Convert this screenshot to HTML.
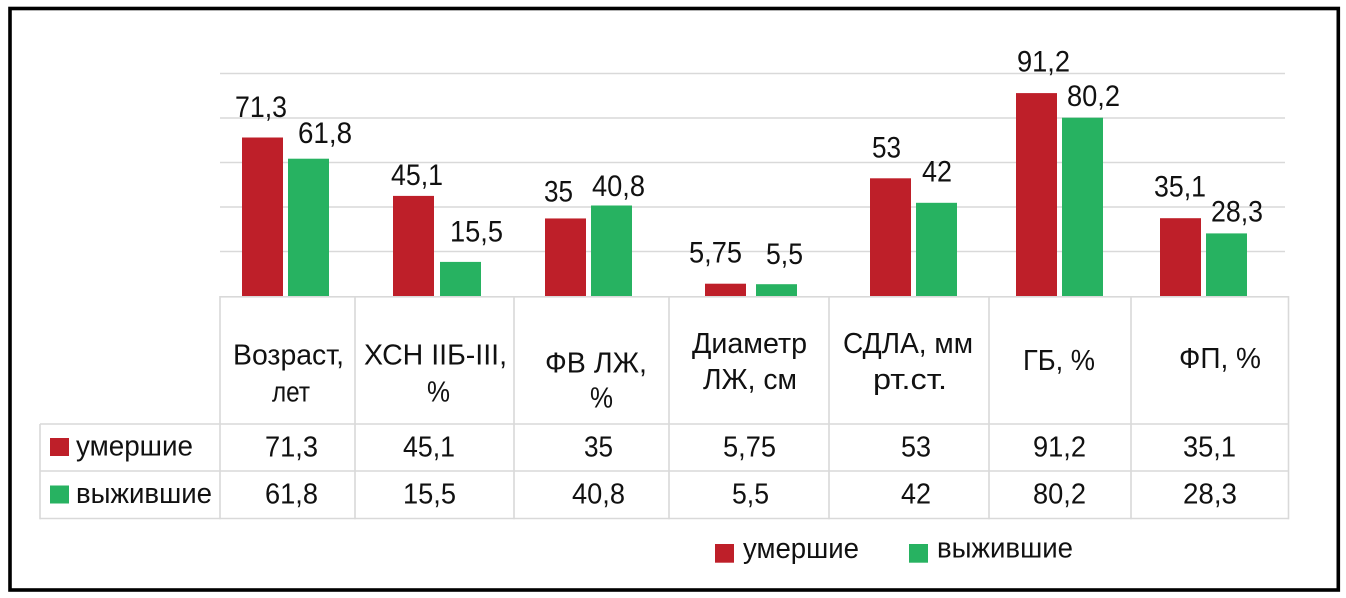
<!DOCTYPE html>
<html>
<head>
<meta charset="utf-8">
<style>
  html,body{margin:0;padding:0;background:#fff;}
  svg{display:block;}
  text{font-family:"Liberation Sans","Noto Sans CJK SC",sans-serif;fill:#111;}
</style>
</head>
<body>
<svg width="1346" height="598" viewBox="0 0 1346 598" xmlns="http://www.w3.org/2000/svg">
  <rect x="0" y="0" width="1346" height="598" fill="#fff"/>
  <!-- frame -->
  <rect x="10" y="8.5" width="1328.3" height="581.5" fill="none" stroke="#000" stroke-width="3.6"/>

  <!-- gridlines -->
  <g stroke="#d9d9d9" stroke-width="1.4">
    <line x1="220" y1="73.5" x2="1285" y2="73.5"/>
    <line x1="220" y1="118" x2="1285" y2="118"/>
    <line x1="220" y1="162.5" x2="1285" y2="162.5"/>
    <line x1="220" y1="207" x2="1285" y2="207"/>
    <line x1="220" y1="251.5" x2="1285" y2="251.5"/>
  </g>

  <!-- bars -->
  <g fill="#BE1F29">
    <rect x="242" y="137.5" width="41" height="159"/>
    <rect x="393" y="195.9" width="41" height="100.6"/>
    <rect x="545" y="218.45" width="41" height="78.05"/>
    <rect x="705" y="283.7" width="41" height="12.8"/>
    <rect x="870" y="178.3" width="41" height="118.2"/>
    <rect x="1016" y="93.1" width="41" height="203.4"/>
    <rect x="1160" y="218.2" width="41" height="78.3"/>
  </g>
  <g fill="#27B261">
    <rect x="288" y="158.7" width="41" height="137.8"/>
    <rect x="440" y="261.9" width="41" height="34.6"/>
    <rect x="591" y="205.5" width="41" height="91"/>
    <rect x="756" y="284.2" width="41" height="12.3"/>
    <rect x="916" y="202.8" width="41" height="93.7"/>
    <rect x="1062" y="117.7" width="41" height="178.8"/>
    <rect x="1206" y="233.4" width="41" height="63.1"/>
  </g>

  <!-- bar labels -->
  <g font-size="30">
    <text x="235" y="117" textLength="52" lengthAdjust="spacingAndGlyphs">71,3</text>
    <text x="298" y="143" textLength="54" lengthAdjust="spacingAndGlyphs">61,8</text>
    <text x="391" y="185" textLength="52" lengthAdjust="spacingAndGlyphs">45,1</text>
    <text x="450" y="241.7" textLength="53" lengthAdjust="spacingAndGlyphs">15,5</text>
    <text x="544" y="201.7" textLength="29" lengthAdjust="spacingAndGlyphs">35</text>
    <text x="592" y="196" textLength="53" lengthAdjust="spacingAndGlyphs">40,8</text>
    <text x="689" y="262.7" textLength="53" lengthAdjust="spacingAndGlyphs">5,75</text>
    <text x="766" y="264" textLength="37" lengthAdjust="spacingAndGlyphs">5,5</text>
    <text x="872" y="157.3" textLength="29" lengthAdjust="spacingAndGlyphs">53</text>
    <text x="922" y="181.7" textLength="30" lengthAdjust="spacingAndGlyphs">42</text>
    <text x="1017" y="71.7" textLength="53" lengthAdjust="spacingAndGlyphs">91,2</text>
    <text x="1067" y="106" textLength="53" lengthAdjust="spacingAndGlyphs">80,2</text>
    <text x="1154" y="196.7" textLength="52" lengthAdjust="spacingAndGlyphs">35,1</text>
    <text x="1211" y="221.7" textLength="52" lengthAdjust="spacingAndGlyphs">28,3</text>
  </g>

  <!-- table lines -->
  <g stroke="#d9d9d9" stroke-width="1.6" fill="none">
    <line x1="220" y1="296.8" x2="1289" y2="296.8"/>
    <line x1="40" y1="424" x2="1289" y2="424"/>
    <line x1="40" y1="471" x2="1289" y2="471"/>
    <line x1="40" y1="518.5" x2="1289" y2="518.5"/>
    <line x1="40" y1="424" x2="40" y2="519.3"/>
    <line x1="220" y1="296" x2="220" y2="519.3"/>
    <line x1="355" y1="296" x2="355" y2="519.3"/>
    <line x1="514" y1="296" x2="514" y2="519.3"/>
    <line x1="669" y1="296" x2="669" y2="519.3"/>
    <line x1="829" y1="296" x2="829" y2="519.3"/>
    <line x1="989" y1="296" x2="989" y2="519.3"/>
    <line x1="1131" y1="296" x2="1131" y2="519.3"/>
    <line x1="1288.5" y1="296" x2="1288.5" y2="519.3"/>
  </g>

  <!-- header text -->
  <g font-size="29">
    <text x="233" y="364.3" textLength="111" lengthAdjust="spacingAndGlyphs">Возраст,</text>
    <text x="272" y="401.7" textLength="38" lengthAdjust="spacingAndGlyphs">лет</text>
    <text x="364" y="364.3" textLength="143" lengthAdjust="spacingAndGlyphs">ХСН IIБ-III,</text>
    <text x="427" y="401.7" textLength="23" lengthAdjust="spacingAndGlyphs">%</text>
    <text x="545" y="372.7" textLength="102" lengthAdjust="spacingAndGlyphs">ФВ ЛЖ,</text>
    <text x="590" y="407.3" textLength="23" lengthAdjust="spacingAndGlyphs">%</text>
    <text x="692" y="353" textLength="115" lengthAdjust="spacingAndGlyphs">Диаметр</text>
    <text x="703" y="389" textLength="94" lengthAdjust="spacingAndGlyphs">ЛЖ, см</text>
    <text x="843" y="353" textLength="130" lengthAdjust="spacingAndGlyphs">СДЛА, мм</text>
    <text x="873" y="389" textLength="74" lengthAdjust="spacingAndGlyphs">рт.ст.</text>
    <text x="1023" y="370" textLength="72" lengthAdjust="spacingAndGlyphs">ГБ, %</text>
    <text x="1179" y="368" textLength="82" lengthAdjust="spacingAndGlyphs">ФП, %</text>
  </g>

  <!-- data rows -->
  <g font-size="29">
    <rect x="50" y="438" width="19" height="18" fill="#BE1F29"/>
    <text x="76" y="455.7" textLength="117" lengthAdjust="spacingAndGlyphs">умершие</text>
    <rect x="50" y="485.5" width="19" height="18" fill="#27B261"/>
    <text x="76" y="503" textLength="136" lengthAdjust="spacingAndGlyphs">выжившие</text>

    <text x="265" y="456.7" textLength="53" lengthAdjust="spacingAndGlyphs">71,3</text>
    <text x="403" y="456.7" textLength="52" lengthAdjust="spacingAndGlyphs">45,1</text>
    <text x="584" y="456.7" textLength="29" lengthAdjust="spacingAndGlyphs">35</text>
    <text x="723" y="456.7" textLength="53" lengthAdjust="spacingAndGlyphs">5,75</text>
    <text x="901" y="456.7" textLength="30" lengthAdjust="spacingAndGlyphs">53</text>
    <text x="1033" y="456.7" textLength="53" lengthAdjust="spacingAndGlyphs">91,2</text>
    <text x="1183" y="456.7" textLength="53" lengthAdjust="spacingAndGlyphs">35,1</text>

    <text x="265" y="503.3" textLength="53" lengthAdjust="spacingAndGlyphs">61,8</text>
    <text x="403" y="503.3" textLength="53" lengthAdjust="spacingAndGlyphs">15,5</text>
    <text x="572" y="503.3" textLength="53" lengthAdjust="spacingAndGlyphs">40,8</text>
    <text x="732" y="503.3" textLength="37" lengthAdjust="spacingAndGlyphs">5,5</text>
    <text x="901" y="503.3" textLength="30" lengthAdjust="spacingAndGlyphs">42</text>
    <text x="1033" y="503.3" textLength="53" lengthAdjust="spacingAndGlyphs">80,2</text>
    <text x="1183" y="503.3" textLength="54" lengthAdjust="spacingAndGlyphs">28,3</text>
  </g>

  <!-- bottom legend -->
  <g font-size="29">
    <rect x="715" y="544" width="19" height="18.7" fill="#BE1F29"/>
    <text x="743" y="558" textLength="116" lengthAdjust="spacingAndGlyphs">умершие</text>
    <rect x="909" y="544" width="19" height="18.7" fill="#27B261"/>
    <text x="937" y="557.7" textLength="136" lengthAdjust="spacingAndGlyphs">выжившие</text>
  </g>
</svg>
</body>
</html>
